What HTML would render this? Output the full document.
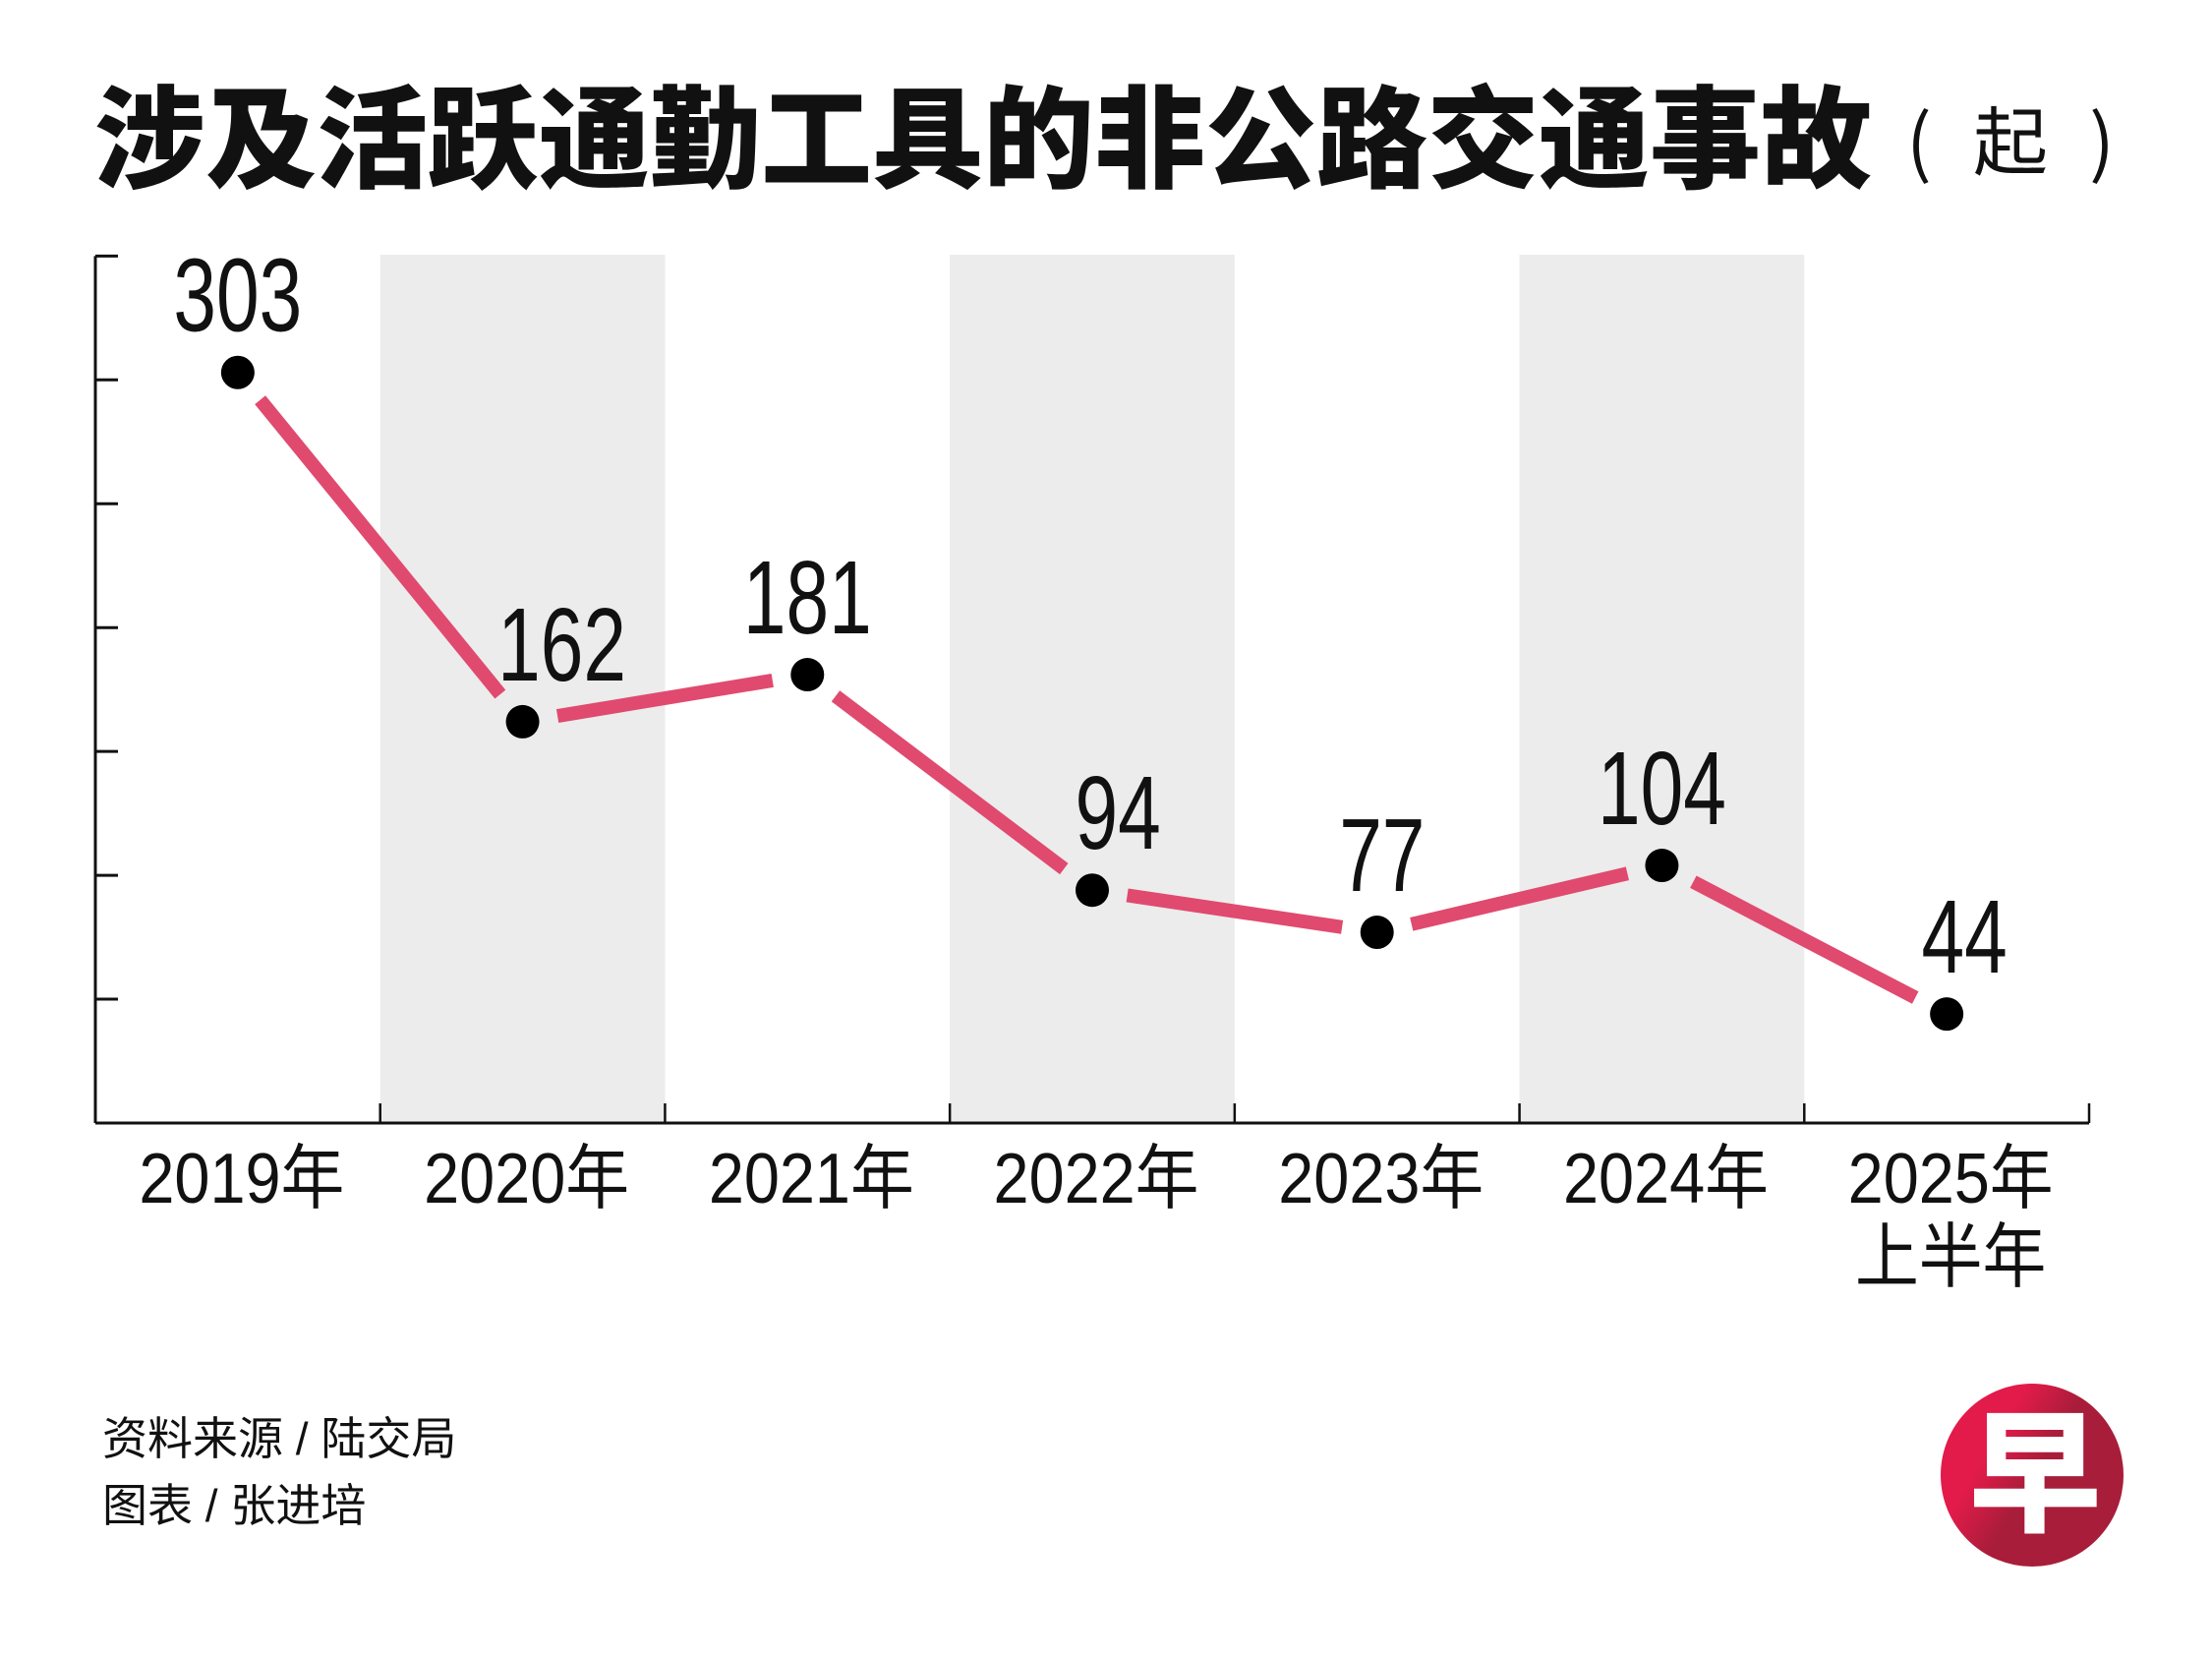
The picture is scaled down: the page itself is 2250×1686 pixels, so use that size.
<!DOCTYPE html>
<html><head><meta charset="utf-8">
<style>
html,body{margin:0;padding:0;background:#fff;}
svg{display:block;}
</style></head>
<body>
<svg id="chart" width="2250" height="1686" viewBox="0 0 2250 1686" xmlns="http://www.w3.org/2000/svg">
  <rect width="2250" height="1686" fill="#fff"/>
  <text x="96" y="182" font-family="'Noto Sans CJK SC',sans-serif" font-weight="900" font-size="113" fill="#111">涉及活跃通勤工具的非公路交通事故</text>
  <g font-family="'Noto Sans CJK SC',sans-serif" font-size="76" fill="#111">
    <text x="1952" y="172" text-anchor="middle">(</text>
    <text x="2045" y="172" text-anchor="middle">起</text>
    <text x="2138" y="172" text-anchor="middle">)</text>
  </g>
  <g id="bands"></g>
  <g id="axes"></g>
  <g id="series"></g>
  <g id="labels"></g>
  <g id="xlabels"></g>
  <text x="104" y="1479" font-family="'Liberation Sans','Noto Sans CJK SC',sans-serif" font-size="46" fill="#111">资料来源 / 陆交局</text>
  <text x="104" y="1547" font-family="'Liberation Sans','Noto Sans CJK SC',sans-serif" font-size="46" fill="#111">图表 / 张进培</text>
  <g>
    <defs><linearGradient id="lg" x1="0" y1="0" x2="1" y2="0.6"><stop offset="0.35" stop-color="#e31b4a"/><stop offset="0.6" stop-color="#a81d3a"/></linearGradient></defs>
    <circle cx="2067" cy="1500" r="93" fill="url(#lg)"/>
    <text x="2070" y="1547" text-anchor="middle" font-family="'Noto Sans CJK SC',sans-serif" font-weight="900" font-size="135" fill="#fff">早</text>
  </g>
</svg>
<script>
const categories = ["2019年","2020年","2021年","2022年","2023年","2024年","2025年"];
const subLabels = ["","","","","","","上半年"];
const values = [303,162,181,94,77,104,44];
const yTicks = [0,50,100,150,200,250,300,350];

const NS = "http://www.w3.org/2000/svg";
const X0 = 97, X1 = 2125, Y0 = 1142, PX = 2.519;
const colW = (X1 - X0) / categories.length;
const xPos = i => X0 + colW * (i + 0.5);
const yPos = v => Y0 - v * PX;
function mk(tag, attrs, parent){const e=document.createElementNS(NS,tag);for(const k in attrs)e.setAttribute(k,attrs[k]);parent.appendChild(e);return e;}

const bands = document.getElementById('bands');
categories.forEach((c,i)=>{
  if(i%2===1){
    const r = mk('rect',{x:X0+colW*i,y:259,width:colW,height:Y0-259,fill:'#ececec'},bands);
    
    
  }
});

const axes = document.getElementById('axes');
const ya = mk('line',{x1:X0,y1:yPos(yTicks[yTicks.length-1]),x2:X0,y2:Y0,stroke:'#111','stroke-width':3},axes);


const xa = mk('line',{x1:X0,y1:Y0,x2:X1,y2:Y0,stroke:'#111','stroke-width':3},axes);


yTicks.forEach(t=>{
  if(t===0) return;
  const l = mk('line',{x1:X0,y1:yPos(t),x2:X0+23,y2:yPos(t),stroke:'#111','stroke-width':3},axes);
  
  
});
for(let i=1;i<=categories.length;i++){
  const l = mk('line',{x1:X0+colW*i,y1:Y0,x2:X0+colW*i,y2:Y0-20,stroke:'#111','stroke-width':2.5},axes);
  
  
}

const series = document.getElementById('series');
const GAP = 36;
for(let i=0;i<values.length-1;i++){
  const ax=xPos(i), ay=yPos(values[i]), bx=xPos(i+1), by=yPos(values[i+1]);
  const dx=bx-ax, dy=by-ay, d=Math.hypot(dx,dy), ux=dx/d, uy=dy/d;
  const seg = mk('line',{x1:ax+ux*GAP,y1:ay+uy*GAP,x2:bx-ux*GAP,y2:by-uy*GAP,stroke:'#e04a6e','stroke-width':14},series);
  
  
}
values.forEach((v,i)=>{
  const c = mk('circle',{cx:xPos(i),cy:yPos(v),r:17,fill:'#000'},series);
  
  
});

const labels = document.getElementById('labels');
values.forEach((v,i)=>{
  const drop = i>0 ? values[i-1]-v : 0;
  const shift = drop>0 ? Math.min(40, drop*0.3) : 0;
  const lx = xPos(i)+shift, ly = yPos(v)-42;
  const t = mk('text',{x:0,y:0,'text-anchor':'middle','font-family':"'Liberation Sans',sans-serif",'font-size':106,fill:'#111',transform:`translate(${lx},${ly}) scale(0.74,1)`},labels);
  t.textContent = v;
  
  
});

const xl = document.getElementById('xlabels');
categories.forEach((c,i)=>{
  const cx = xPos(i)+4;
  const t = mk('text',{x:0,y:0,'text-anchor':'middle','font-family':"'Liberation Sans','Noto Sans CJK SC',sans-serif",'font-size':72,fill:'#111',transform:`translate(${cx},1223) scale(0.9,1)`},xl);
  t.textContent = c;
  
  
  if(subLabels[i]){
    const s = mk('text',{x:0,y:0,'text-anchor':'middle','font-family':"'Liberation Sans','Noto Sans CJK SC',sans-serif",'font-size':72,fill:'#111',transform:`translate(${cx},1303) scale(0.9,1)`},xl);
    s.textContent = subLabels[i];
    
    
  }
});
</script>
</body></html>
